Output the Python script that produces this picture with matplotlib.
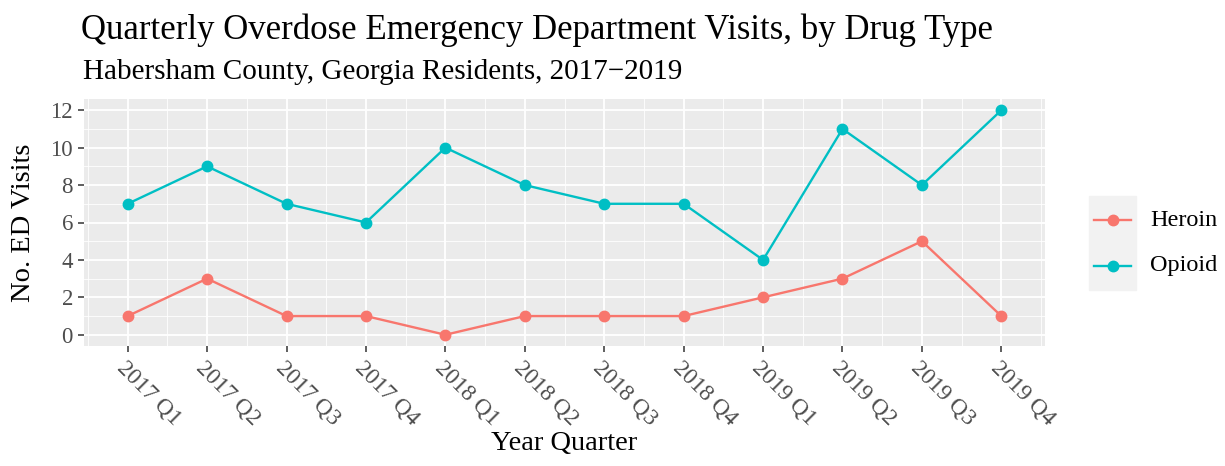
import matplotlib
matplotlib.use("Agg")
from matplotlib import pyplot as plt
from matplotlib.ticker import MultipleLocator
from matplotlib.lines import Line2D

plt.rcParams['font.family'] = ['Liberation Serif', 'DejaVu Serif']

quarters = ["2017 Q1", "2017 Q2", "2017 Q3", "2017 Q4",
            "2018 Q1", "2018 Q2", "2018 Q3", "2018 Q4",
            "2019 Q1", "2019 Q2", "2019 Q3", "2019 Q4"]
heroin = [1, 3, 1, 1, 0, 1, 1, 1, 2, 3, 5, 1]
opioid = [7, 9, 7, 6, 10, 8, 7, 7, 4, 11, 8, 12]

series = [("Heroin", heroin, "#F8766D"), ("Opioid", opioid, "#00BFC4")]

W, H = 1225, 466
fig = plt.figure(figsize=(W / 100, H / 100), dpi=100)
ax = fig.add_axes([84 / W, 1 - 346 / H, (1045 - 84) / W, (346 - 99) / H])

x = list(range(len(quarters)))
for name, vals, col in series:
    ax.plot(x, vals, color=col, lw=1.7, marker="o", ms=7.5, label=name, zorder=3)

ax.set_facecolor("#EBEBEB")
ax.set_xlim(-0.55, 11.55)
ax.set_ylim(-0.6, 12.6)
ax.set_xticks(x)
ax.set_xticklabels(quarters, rotation=-45, ha="left", va="top",
                   rotation_mode="anchor", fontsize=16.8, color="#4D4D4D")
ax.xaxis.set_minor_locator(MultipleLocator(1, offset=0.5))
ax.yaxis.set_major_locator(MultipleLocator(2))
ax.yaxis.set_minor_locator(MultipleLocator(1))
ax.tick_params(axis="y", labelsize=16.5, labelcolor="#4D4D4D")
ax.tick_params(which="major", length=4.5, width=1.1, color="#333333")
ax.tick_params(which="minor", length=0)
ax.grid(which="major", color="white", lw=1.3)
ax.grid(which="minor", color="white", lw=0.6)
ax.set_axisbelow(True)
for s in ax.spines.values():
    s.set_visible(False)

ax.set_xlabel("Year Quarter", fontsize=20.5, labelpad=1)
ax.set_ylabel("No. ED Visits", fontsize=20.5, labelpad=10)

fig.text(81 / W, 1 - 30 / H, "Quarterly Overdose Emergency Department Visits, by Drug Type",
         fontsize=25, va="center", ha="left")
fig.text(83 / W, 1 - 72 / H, "Habersham County, Georgia Residents, 2017\u22122019",
         fontsize=21, va="center", ha="left")

# legend, drawn by hand to match ggplot's key layout
fig.patches.append(plt.Rectangle((1089 / W, 1 - 290 / H), 47 / W, 94 / H,
                                 transform=fig.transFigure, color="#F2F2F2", zorder=0))
for i, (name, _, col) in enumerate(series):
    yk = 1 - (220 + 46 * i) / H
    fig.add_artist(Line2D([1094 / W, 1131 / W], [yk, yk], color=col, lw=1.7,
                          transform=fig.transFigure))
    fig.add_artist(Line2D([1112.5 / W], [yk], color=col, marker="o", ms=7.5,
                          transform=fig.transFigure))
    fig.text(1150 / W, yk, name, fontsize=17.5, va="center", ha="left")

fig.savefig("out.png", dpi=100)
